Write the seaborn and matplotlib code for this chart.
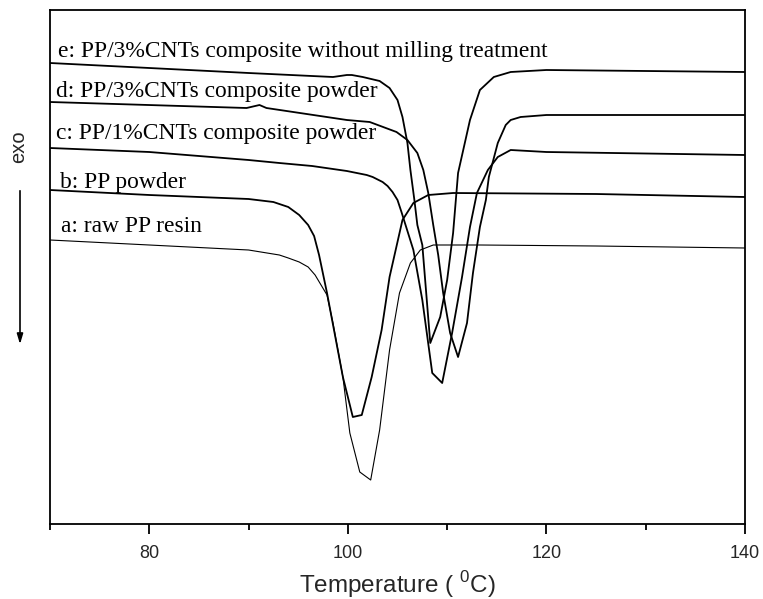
import matplotlib
matplotlib.use("Agg")
import matplotlib.pyplot as plt
import seaborn as sns
import pandas as pd

# ---- data (temperature in deg C, heat flow in arbitrary units, curves offset) ----
temp_a = [70.0, 80.0, 90.0, 93.1, 94.0, 95.1, 96.0, 96.7, 97.3, 97.9, 98.5, 99.5,
          100.2, 101.2, 102.3, 103.2, 104.2, 105.2, 106.3, 107.3, 108.6, 113.3,
          125.0, 140.0]
flow_a = [2.84, 2.79, 2.74, 2.69, 2.66, 2.62, 2.57, 2.49, 2.39, 2.29, 2.01, 1.47,
          0.91, 0.52, 0.44, 0.94, 1.74, 2.31, 2.61, 2.74, 2.79, 2.79,
          2.78, 2.76]

temp_b = [70.0, 80.0, 90.0, 92.5, 94.0, 95.1, 96.0, 96.6, 97.1, 97.9, 99.5, 100.5,
          101.4, 102.4, 103.4, 104.2, 105.5, 106.6, 108.1, 110.6, 125.0, 140.0]
flow_b = [3.34, 3.29, 3.25, 3.22, 3.17, 3.09, 2.99, 2.88, 2.69, 2.31, 1.47, 1.07,
          1.09, 1.47, 1.94, 2.47, 3.04, 3.21, 3.29, 3.31, 3.30, 3.27]

temp_c = [70.0, 80.0, 90.0, 93.1, 96.4, 99.9, 101.9, 102.5, 103.5, 104.0, 104.5,
          105.0, 105.4, 106.6, 107.5, 108.5, 109.5, 110.5, 111.5, 112.3, 113.0, 114.1,
          115.1, 116.4, 120.0, 140.0]
flow_c = [3.76, 3.72, 3.64, 3.61, 3.58, 3.53, 3.49, 3.47, 3.42, 3.38, 3.32,
          3.24, 3.12, 2.74, 2.24, 1.51, 1.41, 1.91, 2.47, 2.97, 3.31, 3.54,
          3.67, 3.74, 3.72, 3.69]

temp_d = [70.0, 89.8, 91.1, 91.8, 99.9, 102.2, 104.9, 106.0, 107.0, 107.6, 108.1, 108.6,
          109.1, 109.6, 110.3, 111.1, 112.0, 112.6, 113.3, 113.9, 114.2, 115.1, 115.9,
          116.4, 117.4, 120.0, 140.0]
flow_d = [4.22, 4.16, 4.19, 4.16, 4.04, 4.02, 3.92, 3.84, 3.71, 3.54, 3.31, 2.99,
          2.69, 2.31, 1.91, 1.67, 2.01, 2.51, 2.97, 3.24, 3.47, 3.81, 3.99,
          4.04, 4.07, 4.09, 4.09]

temp_e = [70.0, 80.0, 90.0, 98.5, 99.9, 100.4, 101.5, 103.2, 104.2, 105.0, 105.5, 106.0,
          106.3, 106.7, 107.0, 107.5, 108.3, 109.3, 110.0, 110.6, 111.1, 112.3, 113.3,
          114.7, 116.4, 120.0, 140.0]
flow_e = [4.61, 4.56, 4.51, 4.47, 4.49, 4.49, 4.47, 4.43, 4.36, 4.24, 4.07, 3.81,
          3.54, 3.24, 2.99, 2.79, 1.81, 2.07, 2.44, 2.91, 3.51, 4.04, 4.34,
          4.47, 4.52, 4.54, 4.52]

labels = ["a: raw PP resin",
          "b: PP powder",
          "c: PP/1%CNTs composite powder",
          "d: PP/3%CNTs composite powder",
          "e: PP/3%CNTs composite without milling treatment"]
label_x = [71.1, 71.0, 70.6, 70.6, 70.8]
label_y = [2.92, 3.36, 3.85, 4.27, 4.67]

x_ticks = [80, 100, 120, 140]
x_minor = [70, 90, 110, 130]

# ---- figure ----
sns.set_theme(style="white")
plt.rcParams["font.family"] = ["Liberation Sans", "DejaVu Sans"]
plt.rcParams["mathtext.fontset"] = "custom"
plt.rcParams["mathtext.rm"] = "Liberation Sans"

fig = plt.figure(figsize=(7.63, 5.99), dpi=100)
ax = fig.add_axes([50 / 763, 75 / 599, 695 / 763, 514 / 599])

series = [(temp_a, flow_a, 0.8), (temp_b, flow_b, 1.3), (temp_c, flow_c, 1.3),
          (temp_d, flow_d, 1.3), (temp_e, flow_e, 1.3)]
for t, f, lw in series:
    df = pd.DataFrame({"T": t, "q": f})
    sns.lineplot(data=df, x="T", y="q", ax=ax, color="black", linewidth=lw,
                 sort=False, estimator=None)

for txt, lx, ly in zip(labels, label_x, label_y):
    ax.text(lx, ly, txt, family=["Liberation Serif", "DejaVu Serif"], fontsize=16.9,
            va="baseline", ha="left", color="black")

ax.set_xlim(70, 140)
ax.set_ylim(0, 5.14)
ax.set_xticks(x_ticks)
ax.set_xticklabels([str(v) for v in x_ticks])
ax.set_xticks(x_minor, minor=True)
ax.set_yticks([])
ax.tick_params(axis="x", which="major", direction="out", length=7, width=1.3,
               labelsize=13, pad=8, color="black", bottom=True)
ax.tick_params(axis="x", which="minor", direction="out", length=4, width=1.3,
               color="black", bottom=True)
for s in ax.spines.values():
    s.set_visible(True)
    s.set_color("black")
    s.set_linewidth(1.3)

ax.set_xlabel(r"Temperature ( $^{\mathregular{0}}$C)", fontsize=17.5, labelpad=5)
ax.set_ylabel("")

# y-axis "exo" label with downward arrow
fig.text(18.5 / 763, 1 - 147 / 599, "exo", rotation=90, fontsize=14.5,
         ha="center", va="center")
ax.annotate("", xy=(20 / 763, 1 - 347 / 599), xytext=(20 / 763, 1 - 188 / 599),
            xycoords="figure fraction", textcoords="figure fraction",
            arrowprops=dict(arrowstyle="-|>,head_length=0.5,head_width=0.15",
                            color="black", lw=1.2))

fig.savefig("out.png", dpi=100)
